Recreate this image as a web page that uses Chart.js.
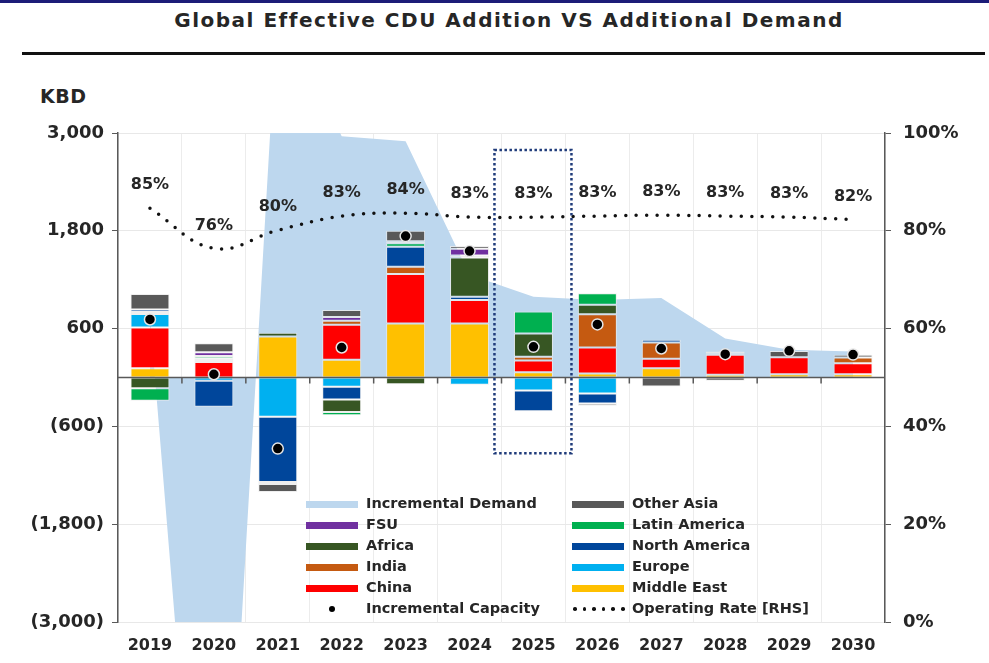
<!DOCTYPE html>
<html>
<head>
<meta charset="utf-8">
<script src="https://cdn.jsdelivr.net/npm/chart.js@4.4.1/dist/chart.umd.min.js"></script>
<style>
  html, body { margin: 0; padding: 0; background: #fff; }
  #wrap { position: relative; width: 989px; height: 663px; overflow: hidden; font-family: 'DejaVu Sans', sans-serif; color: #262626; }
  #topbar { position: absolute; left: 0; top: 0; width: 989px; height: 3px; background: #1c1c78; }
  #title { position: absolute; left: 0; width: 1018px; top: 8px; text-align: center; font-weight: bold; font-size: 20px; letter-spacing: 1.5px; }
  #rule { position: absolute; left: 22px; top: 52px; width: 963px; height: 3px; background: #111; }
  #unit { position: absolute; left: 40px; top: 85px; font-weight: bold; font-size: 19px; letter-spacing: 0.5px; }
  #chartBox { position: absolute; left: 0; top: 0; width: 989px; height: 663px; }
  .lg { position: absolute; height: 20px; font-weight: bold; font-size: 14.5px; white-space: nowrap; }
  .lg .sw { position: absolute; left: 0; top: 7px; width: 52px; height: 7px; }
  .lg .tx { position: absolute; left: 60px; top: 1px; }
</style>
</head>
<body>
<div id="wrap">
  <div id="topbar"></div>
  <div id="title">Global Effective CDU Addition VS Additional Demand</div>
  <div id="rule"></div>
  <div id="unit">KBD</div>
  <div id="chartBox"><canvas id="cduChart"></canvas></div>
  <div id="legend"></div>
</div>
<script>
const years = ['2019', '2020', '2021', '2022', '2023', '2024', '2025', '2026', '2027', '2028', '2029', '2030'];

// Incremental demand (KBD)
const demand = [750, -8800, 4600, 2960, 2900, 1260, 990, 950, 975, 480, 340, 320];

// CDU additions by region (KBD)
const middleEast   = [115, null, 503, 217, 663, 663, 65, 49, 115, 33, 40, 40];
const china        = [500, 190, null, 430, 606, 287, 145, 319, 115, 246, 210, 135];
const europe       = [164, -41, -483, -115, null, -90, -160, -196, null, null, null, null];
const india        = [25, 25, null, 50, 90, null, 45, 409, 200, null, null, 70];
const northAmerica = [29, -319, -798, -156, 246, 41, -254, -123, 33, null, null, null];
const africa       = [-131, 20, 45, -151, -82, 480, 285, 115, null, 20, null, null];
const latinAmerica = [-155, 30, null, -41, 41, 25, 270, 143, null, 20, null, null];
const fsu          = [null, 45, -25, 45, 25, 85, null, null, null, null, null, null];
const otherAsia    = [193, 110, -98, 85, 131, 33, null, -29, -110, -40, 75, 35];

// Net incremental capacity (KBD) and operating rate (%)
const capacity = [712, 40, -872, 368, 1735, 1551, 376, 651, 356, 286, 327, 282];
const operatingRate = [84.6, 76.4, 80.1, 83.0, 83.6, 82.8, 82.8, 83.0, 83.2, 83.0, 82.8, 82.3];

const yTicks = [-3000, 3000, 1200];

const regions = [
  { label: 'Middle East', data: middleEast, color: '#ffc000' },
  { label: 'China', data: china, color: '#ff0000' },
  { label: 'Europe', data: europe, color: '#00b0f0' },
  { label: 'India', data: india, color: '#c55a11' },
  { label: 'North America', data: northAmerica, color: '#00469b' },
  { label: 'Africa', data: africa, color: '#375623' },
  { label: 'Latin America', data: latinAmerica, color: '#00b050' },
  { label: 'FSU', data: fsu, color: '#7030a0' },
  { label: 'Other Asia', data: otherAsia, color: '#595959' }
];

const fmt = v => v < 0 ? '(' + (-v).toLocaleString('en-US') + ')' : v.toLocaleString('en-US');

Chart.defaults.font.family = "'DejaVu Sans', sans-serif";
Chart.defaults.font.weight = 'bold';
Chart.defaults.color = '#262626';

const overlay = {
  id: 'overlay',
  afterDatasetDraw(chart, args) {
    if (chart.data.datasets[args.index].label !== 'Middle East') return;
    const { ctx, chartArea: a, scales: { y } } = chart;
    const y0 = y.getPixelForValue(0);
    const step = (a.right - a.left) / years.length;
    ctx.save();
    ctx.strokeStyle = '#595959';
    ctx.lineWidth = 1.5;
    ctx.beginPath();
    ctx.moveTo(a.left, y0);
    ctx.lineTo(a.right, y0);
    for (let i = 1; i < years.length; i++) {
      ctx.moveTo(a.left + i * step, y0);
      ctx.lineTo(a.left + i * step, y0 + 6);
    }
    ctx.stroke();
    ctx.restore();
  },
  afterDatasetsDraw(chart) {
    const { ctx, scales: { x, y, y1 } } = chart;
    ctx.save();
    // operating rate labels
    ctx.font = "bold 16px 'DejaVu Sans'";
    ctx.fillStyle = '#262626';
    ctx.textAlign = 'center';
    ctx.textBaseline = 'middle';
    operatingRate.forEach((v, i) => {
      ctx.fillText(Math.round(v) + '%', x.getPixelForValue(i), y1.getPixelForValue(v) - 23);
    });
    // dotted highlight box around 2025
    const cx = x.getPixelForValue(years.indexOf('2025'));
    const top = y.getPixelForValue(2790), bottom = y.getPixelForValue(-930);
    ctx.strokeStyle = '#1f3b7a';
    ctx.lineWidth = 2.5;
    ctx.setLineDash([2.5, 2.5]);
    ctx.strokeRect(cx - 39, top, 77, bottom - top);
    ctx.restore();
  }
};

const datasets = [
  {
    type: 'line', label: 'Incremental Demand', data: demand,
    fill: 'origin', backgroundColor: '#bdd7ee', borderWidth: 0,
    pointRadius: 0, order: 30, stack: 'demand', yAxisID: 'y'
  },
  ...regions.map(r => ({
    type: 'bar', label: r.label, data: r.data,
    backgroundColor: r.color, borderColor: 'rgba(235,235,235,0.8)',
    borderWidth: 1, borderSkipped: false,
    barPercentage: 0.61, categoryPercentage: 1,
    order: 20, stack: 'cap', yAxisID: 'y'
  })),
  {
    type: 'line', label: 'Incremental Capacity', data: capacity,
    showLine: false, pointRadius: 5.5, pointBackgroundColor: '#000',
    pointBorderColor: '#e6e6e6', pointBorderWidth: 1.5,
    order: 2, stack: 'dots', yAxisID: 'y'
  },
  {
    type: 'line', label: 'Operating Rate [RHS]', data: operatingRate,
    borderColor: '#111', borderWidth: 3.5, borderDash: [0, 10.5], borderCapStyle: 'round',
    tension: 0.4, pointRadius: 0, fill: false,
    order: 1, stack: 'rate', yAxisID: 'y1'
  }
];

new Chart(document.getElementById('cduChart'), {
  data: { labels: years, datasets },
  options: {
    responsive: true,
    maintainAspectRatio: false,
    animation: false,
    layout: { padding: { top: 133, left: 0, right: 0, bottom: 0 } },
    plugins: { legend: { display: false }, tooltip: { enabled: false } },
    scales: {
      x: {
        stacked: true,
        grid: { color: '#ececec', offset: true, drawTicks: false },
        border: { display: false },
        ticks: { font: { size: 16 }, padding: 14 },
        afterFit: s => { s.height = 41; }
      },
      y: {
        stacked: true,
        position: 'left',
        min: yTicks[0], max: yTicks[1],
        ticks: { stepSize: yTicks[2], font: { size: 18 }, padding: 8, callback: v => fmt(v) },
        grid: { color: '#e8e8e8', tickColor: '#595959', tickLength: 6 },
        border: { display: true, color: '#595959', width: 1.5 },
        afterFit: s => { s.width = 118; }
      },
      y1: {
        position: 'right',
        min: 0, max: 100,
        ticks: { stepSize: 20, font: { size: 18 }, padding: 12, callback: v => v + '%' },
        grid: { drawOnChartArea: false, tickColor: '#595959', tickLength: 6 },
        border: { display: true, color: '#595959', width: 1.5 },
        afterFit: s => { s.width = 104; }
      }
    }
  },
  plugins: [overlay]
});

// legend, laid out in two columns like the original
const legendItems = [
  { label: 'Incremental Demand', kind: 'box', color: '#bdd7ee' },
  ...regions.slice().reverse().map(r => ({ label: r.label, kind: 'box', color: r.color })),
  { label: 'Incremental Capacity', kind: 'dot' },
  { label: 'Operating Rate [RHS]', kind: 'dots' }
];
const legendEl = document.getElementById('legend');
legendItems.forEach((it, i) => {
  const col = i % 2, row = Math.floor(i / 2);
  const d = document.createElement('div');
  d.className = 'lg';
  d.style.left = (col ? 572 : 306) + 'px';
  d.style.top = (494 + row * 20.9) + 'px';
  let sw;
  if (it.kind === 'box') {
    sw = '<div class="sw" style="background:' + it.color + '"></div>';
  } else if (it.kind === 'dot') {
    sw = '<div class="sw" style="height:20px;top:0"><div style="position:absolute;left:23px;top:7px;width:6px;height:6px;border-radius:50%;background:#000"></div></div>';
  } else {
    let dots = '';
    for (let k = 0; k < 6; k++) dots += '<div style="position:absolute;left:' + (1 + k * 9.6) + 'px;top:8.5px;width:3.5px;height:3.5px;border-radius:50%;background:#111"></div>';
    sw = '<div class="sw" style="height:20px;top:0">' + dots + '</div>';
  }
  d.innerHTML = sw + '<span class="tx">' + it.label + '</span>';
  legendEl.appendChild(d);
});
</script>
</body>
</html>
